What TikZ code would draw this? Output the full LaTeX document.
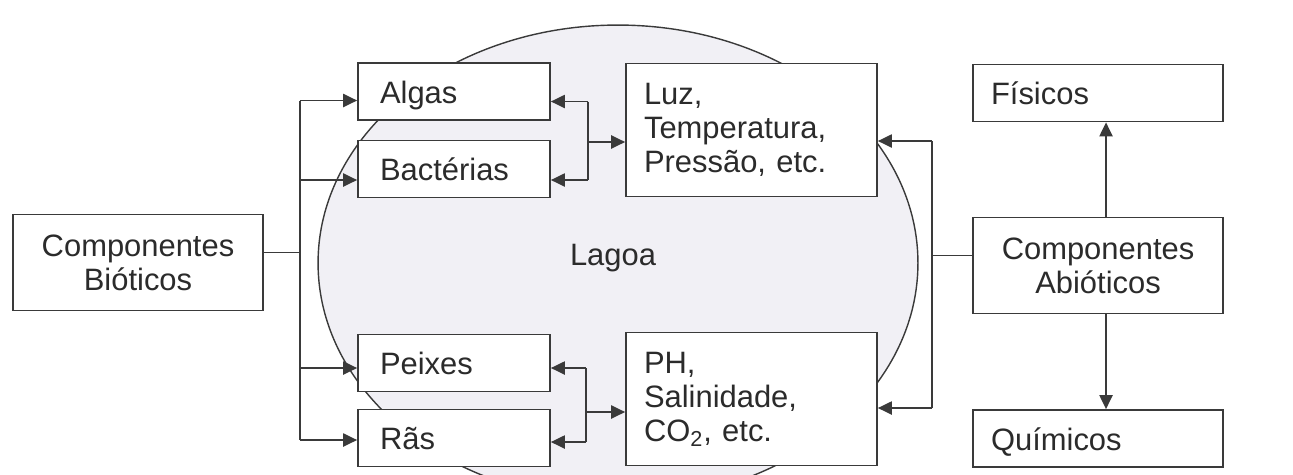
\documentclass[tikz,border=0pt]{standalone}
\usepackage{fontspec}
\setmainfont{Liberation Sans}
\usepackage{tikz}
\usetikzlibrary{arrows.meta,calc}
\definecolor{cline}{HTML}{3A3A3A}
\definecolor{ctext}{HTML}{2B2B2B}
\definecolor{clake}{HTML}{F1F0F5}
\def\xL{454}
\def\xM{751.5}
\def\xR{1098}
\def\xB{138}

\begin{document}
\begin{tikzpicture}[x=0.02cm, y=-0.02cm, >={Triangle[length=8pt,width=7.5pt]},
                    font=\fontsize{17.6pt}{19.4pt}\selectfont, text=ctext,
  link/.style={draw=cline, line width=1pt},
  tip/.style={link, ->},
  box/.style={draw=cline, fill=white, line width=1pt, inner ysep=2pt},
  smallbox/.style={box, minimum width=3.84cm, minimum height=1.14cm,
                   inner xsep=0.44cm, text width=2.96cm, align=left,
                   text height=14.6pt, text depth=1pt},
  bigbox/.style={box, minimum width=5.02cm, minimum height=2.66cm,
                 inner xsep=0.36cm, text width=4.30cm, align=left},
  sidebox/.style={box, minimum width=5.0cm, minimum height=1.14cm,
                  inner xsep=0.36cm, text width=4.28cm, align=left,
                  text height=14.6pt, text depth=1pt},
  compbox/.style={box, minimum width=5.0cm, minimum height=1.92cm,
                  inner xsep=0.36cm, text width=4.28cm, align=center}]

\useasboundingbox (0,0) rectangle (1293,474);

% =================== the lake ===================
\begin{scope}
  \clip (0,0) rectangle (1293,474);
  \filldraw[fill=clake, draw=cline, line width=0.8pt]
    (618,263) ellipse [x radius=6cm, y radius=4.76cm];
\end{scope}
\node (lagoa) at (613,258) {Lagoa};

% =================== boxes ===================
\node[compbox] (bio)  at (\xB,262.5) {Componentes\\Bióticos};
\node[compbox] (abio) at (\xR,265.5) {Componentes\\Abióticos};

\node[smallbox] (algas)  at (\xL,91.5) {Algas};
\node[smallbox] (bact)   at (\xL,169)  {Bactérias};
\node[smallbox] (peixes) at (\xL,363)  {Peixes};
\node[smallbox] (ras)    at (\xL,438)  {Rãs};

\node[bigbox] (luz) at (\xM,130) {Luz,\\Temperatura,\\Pressão, etc.};
\node[bigbox] (ph)  at (\xM,399) {PH,\\Salinidade,\\CO\textsubscript{2}, etc.};

\node[sidebox] (fisicos)  at (\xR,93)    {Físicos};
\node[sidebox] (quimicos) at (\xR,438.5) {Químicos};

% =================== biotic side ===================
\draw[link] ($(bio.east)+(0,-10)$) -- ++(36,0) coordinate (bj);
\foreach \n/\dy in {algas/9,bact/11,peixes/5,ras/2}{
  \coordinate (\n-w) at ($(\n.west)+(0,\dy)$);
  \draw[tip] (bj |- \n-w) -- (\n-w);
}
\draw[link] (bj |- algas-w) -- (bj |- ras-w);

% =================== factors -> organisms ===================
\coordinate (luz-w) at ($(luz.west)+(0,12)$);
\coordinate (mj) at ($(luz.west)+(-37,12)$);
\draw[tip] (mj) -- (luz-w);
\foreach \n/\dy in {algas/10,bact/11}{
  \coordinate (\n-e) at ($(\n.east)+(0,\dy)$);
  \draw[tip] (mj |- \n-e) -- (\n-e);
}
\draw[link] (mj |- algas-e) -- (mj |- bact-e);

\coordinate (ph-w) at ($(ph.west)+(0,13)$);
\coordinate (mk) at ($(ph.west)+(-39,13)$);
\draw[tip] (mk) -- (ph-w);
\foreach \n/\dy in {peixes/5,ras/4}{
  \coordinate (\n-e) at ($(\n.east)+(0,\dy)$);
  \draw[tip] (mk |- \n-e) -- (\n-e);
}
\draw[link] (mk |- peixes-e) -- (mk |- ras-e);

% =================== abiotic side ===================
\draw[link] ($(abio.west)+(0,-10)$) -- ++(-40,0) coordinate (rj);
\coordinate (luz-e) at ($(luz.east)+(0,11)$);
\coordinate (ph-e) at ($(ph.east)+(0,9)$);
\draw[tip] (rj |- luz-e) -- (luz-e);
\draw[tip] (rj |- ph-e) -- (ph-e);
\draw[link] (rj |- luz-e) -- (rj |- ph-e);

\draw[tip] ($(abio.north)+(8,0)$) -- ($(fisicos.south)+(8,0)$);
\draw[tip] ($(abio.south)+(8,0)$) -- ($(quimicos.north)+(8,0)$);

\end{tikzpicture}
\end{document}
